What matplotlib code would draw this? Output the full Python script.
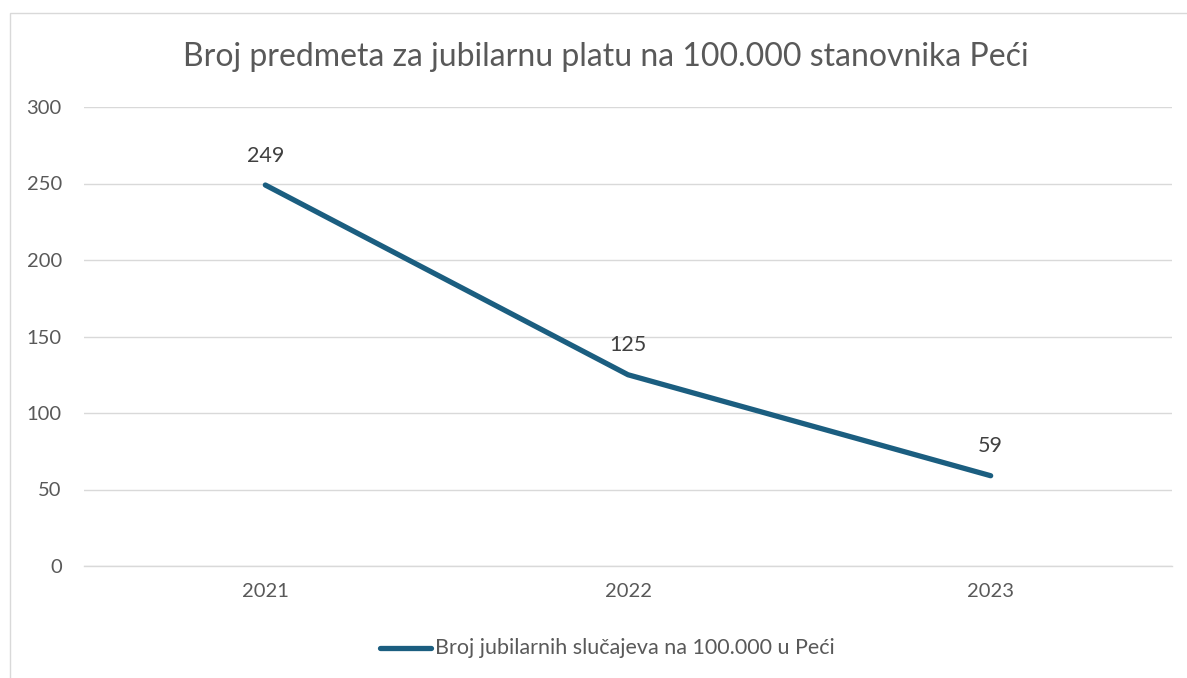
import matplotlib
matplotlib.use("Agg")
import matplotlib.pyplot as plt
from matplotlib.lines import Line2D
from matplotlib.patches import Rectangle

years = ["2021", "2022", "2023"]
values = [249, 125, 59]
series_name = "Broj jubilarnih slučajeva na 100.000 u Peći"
title = "Broj predmeta za jubilarnu platu na 100.000 stanovnika Peći"
yticks = [0, 50, 100, 150, 200, 250, 300]

plt.rcParams['font.family'] = ['Lato', 'DejaVu Sans']
W, H = 1187, 678
fig = plt.figure(figsize=(W/100, H/100), dpi=100)
fig.patch.set_facecolor("white")

# chart border
fig.patches.append(Rectangle((10/W, -0.01), 1.2, 1 - 13/H + 0.01, transform=fig.transFigure,
                             fill=False, edgecolor="#D9D9D9", linewidth=1.0))

ax = fig.add_axes([84/W, 1 - 566/H, (1172-84)/W, (566-107)/H])
line_color = "#1B5E80"
x = list(range(len(years)))
ax.plot(x, values, color=line_color, linewidth=3.8, solid_capstyle="round", solid_joinstyle="round")
for xi, v in zip(x, values):
    ax.annotate(str(v), (xi, v), xytext=(0, 14), textcoords="offset points",
                ha="center", va="bottom", fontsize=15.5, color="#404040")

ax.set_xlim(-0.5, 2.5)
ax.set_ylim(0, 300)
ax.set_xticks(x)
ax.set_xticklabels(years)
ax.set_yticks(yticks)
ax.tick_params(axis="both", length=0, labelsize=14.5, colors="#595959")
ax.tick_params(axis="y", pad=16)
ax.tick_params(axis="x", pad=12)
ax.grid(axis="y", color="#D9D9D9", linewidth=1.0)
ax.set_axisbelow(True)
for s in ["top", "right", "left"]:
    ax.spines[s].set_visible(False)
ax.spines["bottom"].set_color("#D9D9D9")
ax.spines["bottom"].set_linewidth(1.0)

fig.text(606/W, 1 - 57/H, title, ha="center", va="center", fontsize=23, color="#595959")

leg_y = 1 - 648/H
fig.add_artist(Line2D([380/W, 431/W], [leg_y, leg_y], transform=fig.transFigure,
                      color=line_color, linewidth=3.8, solid_capstyle="round"))
fig.text(435/W, leg_y, series_name, ha="left", va="center", fontsize=15.5, color="#595959")

fig.savefig("out.png", dpi=100, facecolor="white")
